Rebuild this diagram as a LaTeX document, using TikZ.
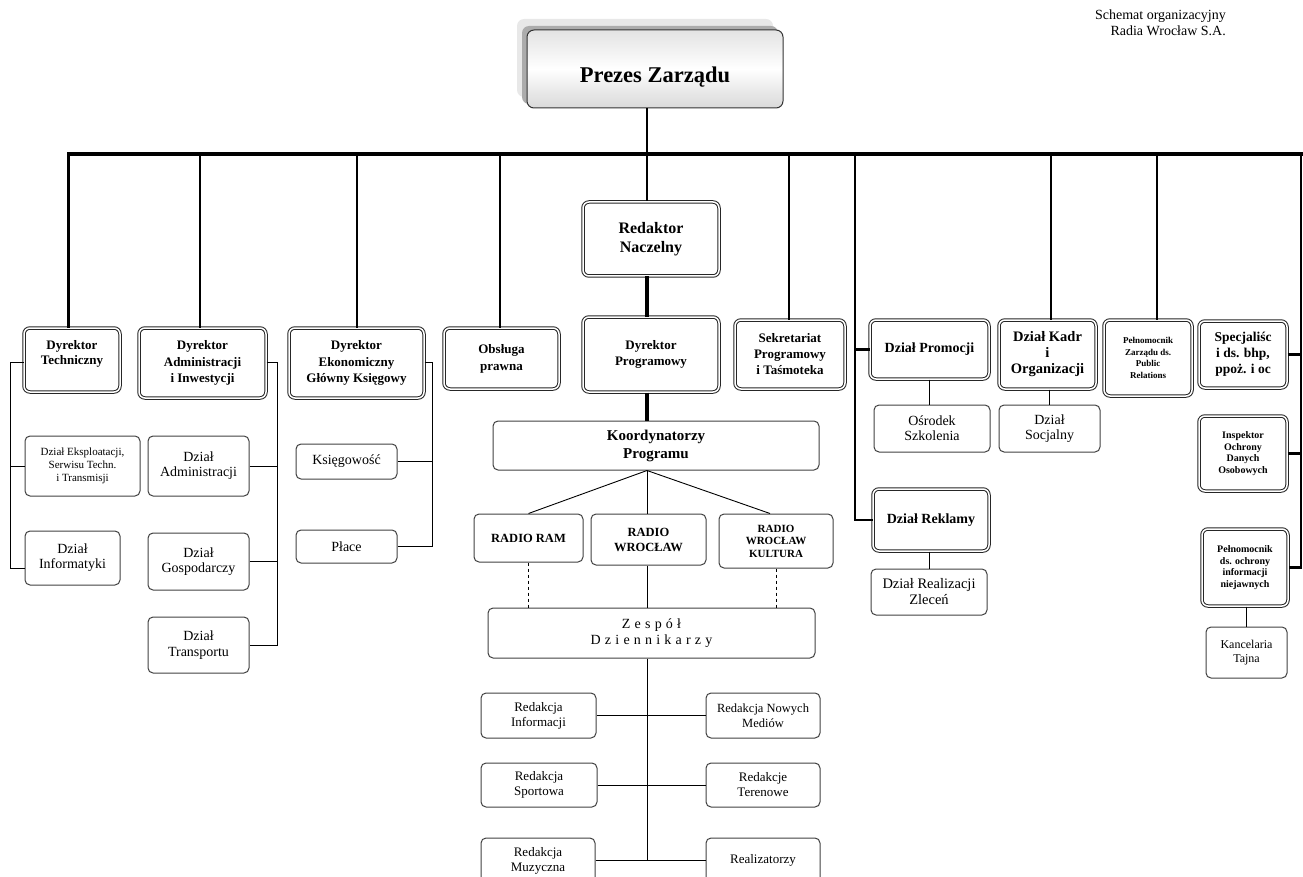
\documentclass[tikz,border=0pt]{standalone}
\usepackage{fontspec}
\setmainfont{Liberation Serif}
\newfontfamily\spacedfont[LetterSpace=30]{Liberation Serif}
\usetikzlibrary{shadows}
\newcommand{\fs}[2]{\fontsize{#1}{#2}\selectfont}
\begin{document}
\begin{tikzpicture}[x=1pt,y=-1pt,
  dbox/.style={draw=black!85, double=white, double distance=1.5pt, line width=1pt, rounded corners=6pt, align=center, inner sep=1pt},
  sbox/.style={draw=black!75, line width=1pt, rounded corners=5pt, align=center, inner sep=1pt},
  pz/.style={draw=black!80, line width=1pt, rounded corners=7pt, align=center,
     top color=gray!22, bottom color=gray!30, middle color=white,
     general shadow={fill=gray!18, shadow xshift=-10pt, shadow yshift=11pt},
     general shadow={fill=gray!65, shadow xshift=-5pt, shadow yshift=4pt}},
  conn/.style={line width=0.9pt},
  mid/.style={line width=2.4pt},
  heavy/.style={line width=3.6pt},
]
\useasboundingbox (0,0) rectangle (1303,877);
\clip (0,0) rectangle (1303,877);

% title
\node[align=right, anchor=north east, inner sep=0pt, font=\fs{14}{16}] (title) at (1226,10) {Schemat organizacyjny\\Radia Wrocław S.A.};

% top
\node[pz, minimum width=256pt, minimum height=78pt, font=\fs{22.5}{25}\bfseries] (prezes) at (655,69) {\raisebox{-8pt}[\height][\depth]{Prezes Zarządu}};

% main row (double boxes)
\node[dbox, minimum width=96pt, minimum height=64pt, font=\fs{13}{15.5}\bfseries] (dt) at (72,360) {Dyrektor\\Techniczny\\~};
\node[dbox, minimum width=127pt, minimum height=70pt, font=\fs{13}{16.5}\bfseries] (da) at (202.5,363) {Dyrektor\\Administracji\\i Inwestycji};
\node[dbox, minimum width=135pt, minimum height=70pt, font=\fs{13}{16.5}\bfseries] (de) at (356.5,363) {Dyrektor\\Ekonomiczny\\Główny Księgowy};
\node[dbox, minimum width=115pt, minimum height=61pt, font=\fs{13}{17}\bfseries] (op) at (501.5,358.5) {Obsługa\\prawna};
\node[dbox, minimum width=136pt, minimum height=74pt, font=\fs{16}{19}\bfseries] (rn) at (651,239) {Redaktor\\Naczelny};
\node[dbox, minimum width=136pt, minimum height=75pt, font=\fs{13}{15.5}\bfseries] (dp) at (651,354.5) {Dyrektor\\Programowy};
\node[dbox, minimum width=110pt, minimum height=69pt, font=\fs{13}{16}\bfseries] (sek) at (790,354.5) {Sekretariat\\Programowy\\i Taśmoteka};
\node[dbox, minimum width=119pt, minimum height=59pt, font=\fs{14}{16}\bfseries] (prom) at (929.5,349.5) {Dział Promocji};
\node[dbox, minimum width=97pt, minimum height=69pt, font=\fs{14.5}{16}\bfseries] (kadr) at (1047.5,354.5) {Dział Kadr\\i\\Organizacji};
\node[dbox, minimum width=88pt, minimum height=76pt, font=\fs{9}{11.5}\bfseries] (pr) at (1148,358) {Pełnomocnik\\Zarządu ds.\\Public\\Relations};
\node[dbox, minimum width=88pt, minimum height=67pt, font=\fs{13.5}{16}\bfseries] (spec) at (1243,354.5) {Specjaliśc\\i ds. bhp,\\ppoż. i oc};
\node[dbox, minimum width=88pt, minimum height=75pt, font=\fs{10}{11.7}\bfseries] (insp) at (1243,453.5) {Inspektor\\Ochrony\\Danych\\Osobowych};
\node[dbox, minimum width=116pt, minimum height=62pt, font=\fs{14}{16}\bfseries] (rekl) at (931,520) {Dział Reklamy};
\node[dbox, minimum width=86pt, minimum height=77pt, font=\fs{10}{11.7}\bfseries] (pe) at (1245,567.5) {Pełnomocnik\\ds. ochrony\\informacji\\niejawnych};

% programme block
\node[sbox, minimum width=326pt, minimum height=49pt, font=\fs{15}{18}\bfseries] (ko) at (656,445.5) {Koordynatorzy\\Programu};
\node[sbox, minimum width=109pt, minimum height=48pt, font=\fs{12.5}{15}\bfseries] (ram) at (528.5,538) {RADIO RAM};
\node[sbox, minimum width=115pt, minimum height=51pt, font=\fs{12.5}{15}\bfseries] (rw) at (648.5,539.5) {RADIO\\WROCŁAW};
\node[sbox, minimum width=114pt, minimum height=54pt, font=\fs{11}{12.5}\bfseries] (kul) at (776,541) {RADIO\\WROCŁAW\\KULTURA};
\node[sbox, minimum width=327pt, minimum height=50pt, font=\fs{14}{16}\spacedfont] (zes) at (651.5,633) {Zespół\\Dziennikarzy};
\node[sbox, minimum width=115pt, minimum height=45pt, font=\fs{13}{15}] (ri) at (538.5,715.5) {Redakcja\\Informacji};
\node[sbox, minimum width=114pt, minimum height=45pt, font=\fs{12.5}{15}] (rnm) at (763,715.5) {Redakcja Nowych\\Mediów};
\node[sbox, minimum width=116pt, minimum height=44pt, font=\fs{13}{15}] (rs) at (539,785) {Redakcja\\Sportowa};
\node[sbox, minimum width=114pt, minimum height=44pt, font=\fs{13}{15}] (rt) at (763,785) {Redakcje\\Terenowe};
\node[sbox, minimum width=114pt, minimum height=45pt, font=\fs{13}{15}] (rm) at (538,860.5) {Redakcja\\Muzyczna};
\node[sbox, minimum width=114pt, minimum height=45pt, font=\fs{13}{15}] (rz) at (763,860.5) {Realizatorzy};

% left sub-units
\node[sbox, minimum width=115pt, minimum height=60pt, font=\fs{11}{13}] (eks) at (82.5,466) {Dział Eksploatacji,\\Serwisu Techn.\\i Transmisji};
\node[sbox, minimum width=95pt, minimum height=54pt, font=\fs{14}{15}] (inf) at (72.5,558) {Dział\\Informatyki};
\node[sbox, minimum width=101pt, minimum height=60pt, font=\fs{14}{15}] (adm) at (198.5,466) {Dział\\Administracji};
\node[sbox, minimum width=101pt, minimum height=57pt, font=\fs{14}{15.5}] (gos) at (198.5,561.5) {Dział\\Gospodarczy};
\node[sbox, minimum width=101pt, minimum height=56pt, font=\fs{14}{15.5}] (tra) at (198.5,645) {Dział\\Transportu};
\node[sbox, minimum width=101pt, minimum height=35pt, font=\fs{14}{15}] (ks) at (346.5,461.5) {Księgowość};
\node[sbox, minimum width=101pt, minimum height=33pt, font=\fs{14}{15}] (pl) at (346.5,546.5) {Płace};

% right sub-units
\node[sbox, minimum width=116pt, minimum height=47pt, font=\fs{14}{15}] (os) at (932,428.5) {Ośrodek\\Szkolenia};
\node[sbox, minimum width=101pt, minimum height=47pt, font=\fs{14}{15}] (soc) at (1049.5,428.5) {Dział\\Socjalny};
\node[sbox, minimum width=116pt, minimum height=46pt, font=\fs{14.5}{16}] (drz) at (929,592) {Dział Realizacji\\Zleceń};
\node[sbox, minimum width=81pt, minimum height=51pt, font=\fs{12}{13.5}] (kan) at (1246.5,652.5) {Kancelaria\\Tajna};

% bus coordinates
\coordinate (b1) at (68.5,154);
\coordinate (b2) at (200,154);
\coordinate (b3) at (357,154);
\coordinate (b4) at (500,154);
\coordinate (b5) at (647,154);
\coordinate (b6) at (789,154);
\coordinate (b7) at (855,154);
\coordinate (b8) at (1051,154);
\coordinate (b9) at (1157,154);
\coordinate (b10) at (1301,154);
\coordinate (bE) at (1304,154);

% bus and drops
\draw[heavy] (dt.north -| b1) -- (b1) -- (bE);
\draw[mid] (prezes.south -| b5) -- (b5);
\draw[mid] (b2) -- (da.north -| b2);
\draw[mid] (b3) -- (de.north -| b3);
\draw[mid] (b4) -- (op.north -| b4);
\draw[mid] (b5) -- (rn.north -| b5);
\draw[mid] (b6) -- (sek.north -| b6);
\draw[mid] (b8) -- (kadr.north -| b8);
\draw[mid] (b9) -- (pr.north -| b9);
\draw[heavy] (rn.south -| b5) -- (dp.north -| b5);
\draw[heavy] (dp.south -| b5) -- (ko.north -| b5);

% right spines
\draw[mid] (b7) -- (b7 |- rekl.west) -- (rekl.west);
\draw[mid] (b7 |- prom.west) -- (prom.west);
\draw[mid] (b10) -- (b10 |- pe.east) -- (pe.east);
\draw[mid] (spec.east) -- (spec.east -| b10);
\draw[mid] (insp.east) -- (insp.east -| b10);

% left spines
\coordinate (sT) at (10,362);
\coordinate (sB) at (10,568);
\draw[conn] (dt.west |- sT) -- (sT) -- (sB) -- (inf.west |- sB);
\draw[conn] (sT |- eks.west) -- (eks.west);
\coordinate (aT) at (277,362);
\draw[conn] (da.east |- aT) -- (aT) -- (aT |- tra.east) -- (tra.east);
\draw[conn] (adm.east) -- (adm.east -| aT);
\draw[conn] (gos.east) -- (gos.east -| aT);
\coordinate (eT) at (432,362);
\draw[conn] (de.east |- eT) -- (eT) -- (eT |- pl.east) -- (pl.east);
\draw[conn] (ks.east) -- (ks.east -| eT);

% programme connectors
\draw[conn] (ko.south -| b5) -- (ram.north);
\draw[conn] (ko.south -| b5) -- (rw.north -| b5);
\draw[conn] (ko.south -| b5) -- ([xshift=-6pt]kul.north);
\draw[conn] (rw.south -| b5) -- (zes.north -| b5);
\draw[conn, dashed] (ram.south) -- (ram.south |- zes.north);
\draw[conn, dashed] (kul.south) -- (kul.south |- zes.north);
\draw[conn] (zes.south -| b5) -- (b5 |- rm.east);
\draw[conn] (ri.east) -- (rnm.west);
\draw[conn] (rs.east) -- (rt.west);
\draw[conn] (rm.east) -- (rz.west);

% right thin connectors
\draw[conn] (prom.south) -- (prom.south |- os.north);
\draw[conn] (soc.north |- kadr.south) -- (soc.north);
\draw[conn] (drz.north |- rekl.south) -- (drz.north);
\draw[conn] (kan.north |- pe.south) -- (kan.north);
\end{tikzpicture}
\end{document}
